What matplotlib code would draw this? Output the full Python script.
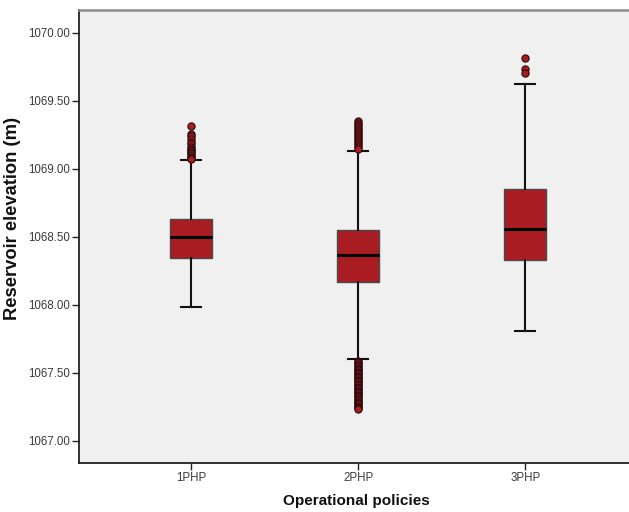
import matplotlib
matplotlib.use("Agg")
import matplotlib.pyplot as plt

plt.rcParams['font.family'] = ['Liberation Sans', 'DejaVu Sans']

policies = ["1PHP", "2PHP", "3PHP"]
q1 = [1068.345, 1068.17, 1068.33]
median = [1068.50, 1068.37, 1068.555]
q3 = [1068.63, 1068.55, 1068.85]
whisker_low = [1067.985, 1067.60, 1067.81]
whisker_high = [1069.065, 1069.13, 1069.625]
fliers_1php = [1069.316, 1069.257, 1069.243, 1069.22, 1069.201, 1069.18, 1069.164,
               1069.15, 1069.14, 1069.128, 1069.118, 1069.105, 1069.09, 1069.082, 1069.074]
fliers_2php = [1069.355, 1069.34, 1069.325, 1069.31, 1069.295, 1069.28, 1069.265,
               1069.25, 1069.235, 1069.22, 1069.205, 1069.19, 1069.175, 1069.16, 1069.145,
               1067.59, 1067.58, 1067.57, 1067.56, 1067.55, 1067.54, 1067.53, 1067.52,
               1067.51, 1067.50, 1067.49, 1067.48, 1067.47, 1067.46, 1067.45, 1067.44,
               1067.43, 1067.42, 1067.41, 1067.40, 1067.39, 1067.38, 1067.37, 1067.36,
               1067.35, 1067.34, 1067.33, 1067.32, 1067.31, 1067.30, 1067.29, 1067.28,
               1067.27, 1067.26, 1067.25, 1067.24, 1067.235]
fliers_3php = [1069.814, 1069.733, 1069.704]
fliers = [fliers_1php, fliers_2php, fliers_3php]
yticks = [1067.0, 1067.5, 1068.0, 1068.5, 1069.0, 1069.5, 1070.0]

stats = []
for i, name in enumerate(policies):
    stats.append(dict(label=name, q1=q1[i], med=median[i], q3=q3[i],
                      whislo=whisker_low[i], whishi=whisker_high[i], fliers=fliers[i]))

fig = plt.figure(figsize=(6.29, 5.12), dpi=100)
ax = fig.add_axes([79/629, 49/512, 550/629, 453/512])
ax.set_facecolor('#F0F0F0')

box_color = '#A81C22'
ax.bxp(stats, positions=[1, 2, 3], widths=0.25, patch_artist=True, showfliers=True,
       boxprops=dict(facecolor=box_color, edgecolor='#4a4a4a', linewidth=1.0),
       medianprops=dict(color='black', linewidth=2.2),
       whiskerprops=dict(color='#111111', linewidth=1.5),
       capprops=dict(color='#111111', linewidth=1.5),
       capwidths=0.12,
       flierprops=dict(marker='o', markersize=5.2, markerfacecolor='#A81C22',
                       markeredgecolor='#2a0a0a', markeredgewidth=0.8))

ax.set_xlim(0.33, 3.62)
ax.set_ylim(1066.838, 1070.169)
ax.set_yticks(yticks)
ax.set_yticklabels([f"{v:.2f}" for v in yticks])
ax.set_xticks([1, 2, 3])
ax.set_xticklabels(policies)
ax.tick_params(axis='both', labelsize=8.3, labelcolor='#3a3a3a', color='#222222',
               length=5, width=1, direction='out', pad=1.2)

for s in ['left', 'bottom']:
    ax.spines[s].set_color('#111111')
    ax.spines[s].set_linewidth(1.2)
ax.spines['top'].set_color('#8c8c8c')
ax.spines['top'].set_linewidth(1.8)
ax.spines['right'].set_visible(False)

ax.set_xlabel("Operational policies", fontsize=11, fontweight='bold', color='#111111')
ax.set_ylabel("Reservoir elevation (m)", fontsize=13.2, fontweight='bold', color='#111111')
ax.xaxis.set_label_coords(0.5045, -0.068)
ax.yaxis.set_label_coords(-0.105, 0.539)

fig.savefig("out.png", dpi=100, facecolor='white')
